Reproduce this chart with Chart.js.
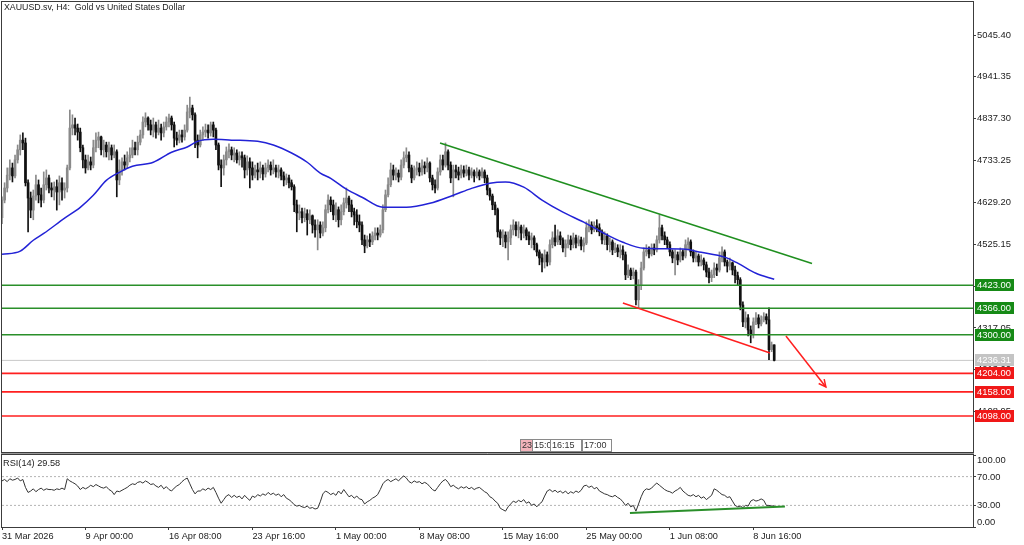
<!DOCTYPE html>
<html>
<head>
<meta charset="utf-8">
<title>XAUUSD H4</title>
<script src="https://cdn.jsdelivr.net/npm/chart.js@4.4.1/dist/chart.umd.min.js"></script>
<style>
  html, body { margin: 0; padding: 0; background: #ffffff; }
  #wrap { position: relative; width: 1024px; height: 545px; overflow: hidden; }
  canvas { position: absolute; left: 0; }
  #main { top: 0; }
  #rsi { top: 453px; }
</style>
</head>
<body>
<div id="wrap">
  <canvas id="main" width="1024" height="453"></canvas>
  <canvas id="rsi" width="1024" height="92"></canvas>
</div>
<script>
    // H4 candles, index 0 = 31 Mar 2026, open of each bar = previous close
    const firstOpen = 4591;
    const closes = [
        4635,4665,4697,4715,4695,4735,4760,4784,4777,4678,
        4640,4610,4645,4673,4648,4635,4673,4690,4665,4660,
        4668,4655,4678,4660,4665,4715,4814,4822,4814,4804,
        4765,4735,4715,4730,4722,4765,4784,4792,4760,4772,
        4755,4765,4747,4755,4685,4710,4730,4722,4740,4747,
        4765,4760,4779,4797,4829,4839,4822,4809,4822,4804,
        4814,4802,4817,4829,4839,4822,4789,4784,4797,4792,
        4809,4854,4864,4847,4784,4772,4797,4804,4809,4802,
        4822,4809,4772,4722,4715,4735,4755,4760,4747,4752,
        4735,4745,4740,4710,4730,4715,4697,4710,4705,4715,
        4700,4715,4722,4710,4715,4705,4710,4695,4685,4690,
        4678,4668,4623,4603,4606,4591,4601,4586,4596,4573,
        4561,4573,4553,4566,4611,4635,4623,4598,4611,4586,
        4606,4628,4640,4623,4606,4598,4581,4573,4536,4521,
        4536,4531,4546,4553,4548,4561,4611,4648,4673,4710,
        4697,4702,4692,4722,4740,4747,4715,4690,4710,4715,
        4705,4720,4715,4727,4690,4673,4665,4705,4735,4722,
        4755,4722,4690,4710,4705,4697,4710,4702,4710,4697,
        4705,4695,4705,4695,4705,4690,4660,4645,4623,4611,
        4556,4541,4548,4531,4541,4561,4573,4561,4568,4553,
        4561,4546,4536,4541,4524,4506,4491,4481,4499,4481,
        4524,4541,4531,4546,4536,4516,4526,4536,4524,4541,
        4528,4536,4521,4528,4566,4573,4561,4571,4566,4556,
        4536,4546,4524,4531,4511,4516,4506,4511,4499,4449,
        4461,4447,4456,4387,4424,4466,4506,4511,4501,4516,
        4511,4536,4566,4546,4536,4524,4506,4491,4499,4486,
        4506,4496,4524,4531,4506,4491,4496,4481,4486,4474,
        4456,4442,4449,4466,4461,4491,4506,4481,4471,4479,
        4461,4447,4437,4374,4332,4342,4312,4300,4332,4342,
        4327,4337,4345,4337,4263,4275,4236.31
    ];
    const highs = [
        4643,4678,4715,4735,4727,4747,4772,4797,4802,4789,
        4685,4655,4660,4697,4685,4665,4705,4710,4697,4678,
        4680,4685,4695,4690,4678,4722,4859,4847,4839,4824,
        4814,4772,4747,4747,4742,4784,4802,4804,4794,4784,
        4779,4779,4772,4772,4760,4735,4740,4747,4755,4765,
        4784,4779,4794,4809,4842,4852,4842,4834,4839,4829,
        4834,4824,4829,4842,4849,4844,4829,4804,4809,4809,
        4822,4871,4891,4871,4852,4797,4809,4817,4824,4822,
        4829,4829,4814,4777,4735,4747,4767,4775,4767,4765,
        4760,4755,4755,4747,4745,4740,4730,4722,4727,4730,
        4722,4727,4735,4730,4735,4722,4722,4715,4705,4700,
        4697,4685,4673,4635,4623,4615,4615,4611,4611,4598,
        4586,4586,4581,4581,4623,4648,4643,4635,4628,4618,
        4623,4640,4665,4645,4635,4615,4611,4598,4581,4548,
        4546,4551,4556,4566,4566,4573,4623,4660,4690,4727,
        4722,4715,4710,4735,4755,4765,4755,4722,4720,4730,
        4727,4735,4730,4740,4730,4697,4685,4715,4747,4747,
        4777,4760,4730,4722,4722,4717,4722,4720,4722,4717,
        4715,4710,4715,4710,4715,4710,4697,4665,4650,4630,
        4615,4561,4561,4556,4556,4573,4586,4581,4581,4573,
        4573,4566,4556,4553,4546,4528,4511,4501,4511,4506,
        4536,4556,4573,4561,4556,4541,4536,4548,4546,4553,
        4548,4546,4543,4541,4581,4586,4581,4581,4586,4576,
        4561,4556,4551,4541,4536,4528,4524,4524,4521,4506,
        4474,4466,4466,4461,4437,4481,4516,4524,4519,4526,
        4526,4546,4598,4573,4556,4543,4531,4511,4511,4506,
        4516,4511,4536,4541,4536,4511,4506,4501,4499,4491,
        4481,4466,4461,4479,4476,4506,4519,4511,4486,4491,
        4481,4471,4456,4442,4382,4357,4350,4322,4342,4355,
        4350,4347,4355,4352,4367,4282,4267
    ];
    const lows = [
        4576,4628,4655,4685,4680,4690,4727,4747,4760,4670,
        4556,4591,4586,4635,4628,4618,4628,4660,4653,4643,
        4635,4610,4623,4635,4640,4655,4710,4797,4797,4784,
        4755,4715,4702,4710,4710,4715,4755,4765,4747,4742,
        4742,4735,4735,4740,4643,4673,4697,4710,4715,4730,
        4740,4747,4747,4772,4789,4817,4809,4797,4792,4789,
        4797,4784,4792,4809,4817,4809,4767,4772,4777,4779,
        4784,4804,4839,4834,4765,4740,4767,4784,4792,4789,
        4794,4792,4760,4710,4668,4697,4722,4740,4735,4730,
        4727,4722,4717,4690,4697,4665,4685,4690,4685,4690,
        4685,4692,4705,4697,4700,4692,4690,4685,4670,4673,
        4665,4660,4606,4556,4586,4578,4581,4548,4576,4553,
        4543,4511,4541,4546,4556,4603,4606,4586,4581,4568,
        4573,4598,4615,4606,4593,4573,4566,4556,4524,4504,
        4516,4519,4524,4536,4536,4543,4553,4606,4643,4668,
        4685,4685,4680,4685,4715,4730,4705,4678,4685,4697,
        4695,4697,4700,4705,4680,4660,4653,4660,4697,4710,
        4717,4710,4678,4643,4690,4685,4690,4692,4695,4685,
        4690,4680,4690,4685,4690,4678,4648,4635,4611,4598,
        4543,4524,4519,4516,4486,4524,4548,4546,4541,4536,
        4541,4536,4524,4516,4511,4496,4474,4456,4466,4471,
        4474,4516,4521,4524,4524,4506,4494,4516,4511,4516,
        4516,4521,4511,4506,4524,4556,4551,4556,4556,4546,
        4526,4524,4511,4506,4499,4504,4494,4491,4486,4437,
        4442,4437,4439,4374,4367,4412,4461,4496,4491,4496,
        4499,4506,4528,4536,4524,4516,4496,4479,4449,4474,
        4481,4486,4491,4511,4496,4481,4481,4471,4471,4461,
        4444,4429,4432,4442,4447,4456,4481,4471,4456,4461,
        4449,4429,4424,4362,4320,4317,4297,4280,4292,4325,
        4317,4322,4332,4327,4238,4258,4235
    ];
    const rsiValues = [
        64,66,63,67,65,66,68,64,66,55,
        48,50,53,49,52,54,51,53,52,52,
        51,53,52,54,52,67,64,62,60,57,
        52,55,53,55,58,56,59,57,55,54,
        56,52,50,45,50,49,51,53,55,58,
        60,59,62,63,61,64,62,59,60,57,
        55,58,53,56,52,50,54,57,59,63,
        66,68,60,52,46,50,50,53,51,54,
        52,55,48,40,33,38,43,45,41,44,
        41,43,39,44,40,37,43,41,45,43,
        46,44,48,45,47,44,46,42,45,40,
        38,35,31,29,30,28,27,29,26,27,
        25,26,35,46,50,48,45,47,44,50,
        46,52,47,42,44,40,43,39,38,32,
        35,37,40,42,45,52,60,64,66,63,
        65,67,64,68,71,68,63,61,64,62,
        63,60,62,60,56,52,50,55,60,64,
        66,62,56,58,55,53,56,54,56,53,
        55,52,54,55,52,49,47,42,40,36,
        33,26,24,22,28,32,36,34,37,35,
        38,33,35,30,32,28,32,35,43,50,
        52,49,51,48,50,47,50,46,49,47,
        50,48,51,57,58,55,57,53,55,50,
        48,46,45,43,42,44,41,39,35,30,
        33,28,30,22,32,42,50,53,52,54,
        58,61,58,55,52,50,49,47,50,52,
        55,50,47,44,43,45,42,44,40,42,
        38,41,44,53,51,48,45,44,41,42,
        36,30,28,29,27,30,29,36,38,36,
        37,39,37,30,30,29,29.58
    ];
    // 이동평균 (파란 선) 표본점
    const maIdx = [0,7,12,16,24,30,35,40,45,50,58,65,71,75,81,88,98,104,111,117,122,126,132,138,146,155,164,173,180,187,193,200,207,215,223,230,238,246,261,268,277,282,289,296];
    const maVals = [4500,4508,4535,4552,4590,4617,4647,4684,4704,4719,4729,4754,4767,4781,4786,4784,4781,4772,4752,4729,4702,4689,4662,4642,4617,4617,4627,4647,4664,4677,4680,4667,4635,4605,4580,4555,4530,4515,4513,4505,4493,4478,4453,4438];

    const yTicks = [5045.40, 4941.35, 4837.30, 4733.25, 4629.20, 4525.15, 4421.10, 4317.05, 4213.00, 4108.95];
    const rsiTicks = [100, 70, 30, 0];
    const rsiLevels = [70, 30];
    const xTickIdx = [0, 32, 64, 96, 128, 160, 192, 224, 256, 288];
    const xLabels = ['31 Mar 2026', '9 Apr 00:00', '16 Apr 08:00', '23 Apr 16:00', '1 May 00:00', '8 May 08:00', '15 May 16:00', '25 May 00:00', '1 Jun 08:00', '8 Jun 16:00'];
    const greenLevels = [4423, 4366, 4300];
    const redLevels = [4204, 4158, 4098];
    const bidPrice = 4236.31;
    const rsiLast = 29.58;
    // 추세선 [bar index, price]
    const upperTrend = [[167.9, 4776.9], [310.5, 4477.3]];
    const lowerTrend = [[238.0, 4379.0], [294.4, 4254.7]];
    const arrowLine = [[300.5, 4297.0], [315.8, 4170.1]];
    const rsiTrend = [[240.7, 19.4], [300.1, 28.5]];
    const xMin = 0, xMax = 372.2;

    // 색상 설정
    const bullColor = '#8a8a8a';
    const bearColor = '#111111';
    const maColor = '#2222d6';
    const greenColor = '#2a8f2a';
    const redColor = '#ff1f1f';
    const frameColor = '#3c3c3c';
    const textColor = '#222222';
    const fontFamily = '"Liberation Sans", Arial, sans-serif';
    const axisFont = { family: fontFamily, size: 9.4 };

    const bars = closes.map((c, i) => {
        const o = i === 0 ? firstOpen : closes[i - 1];
        return { i, o, c, h: Math.max(highs[i], o, c), l: Math.min(lows[i], o, c) };
    });
    const candleColors = bars.map(b => b.c >= b.o ? bullColor : bearColor);

    function hline(v, color, width, order, dash) {
        return {
            type: 'line', data: [{ x: xMin, y: v }, { x: xMax, y: v }],
            borderColor: color, borderWidth: width, borderDash: dash || [],
            pointRadius: 0, order: order
        };
    }
    function seg(pts, color, width, order) {
        return {
            type: 'line', data: pts.map(p => ({ x: p[0], y: p[1] })),
            borderColor: color, borderWidth: width, pointRadius: 0, order: order
        };
    }
    // 축 라벨이 차트 영역을 줄이지 않도록
    function noPad(s) {
        s.paddingTop = 0; s.paddingBottom = 0; s.paddingLeft = 0; s.paddingRight = 0;
    }

    const mainOverlay = {
        id: 'mainOverlay',
        afterDraw(chart) {
            const ctx = chart.ctx, a = chart.chartArea;
            const ys = chart.scales.y, xs = chart.scales.x;
            ctx.save();
            ctx.strokeStyle = frameColor;
            ctx.lineWidth = 1;
            ctx.strokeRect(a.left - 0.5, a.top - 0.5, a.right - a.left + 1, a.bottom - a.top + 1);

            // arrow head
            const x1 = xs.getPixelForValue(arrowLine[0][0]), y1 = ys.getPixelForValue(arrowLine[0][1]);
            const x2 = xs.getPixelForValue(arrowLine[1][0]), y2 = ys.getPixelForValue(arrowLine[1][1]);
            const ang = Math.atan2(y2 - y1, x2 - x1);
            ctx.strokeStyle = redColor;
            ctx.lineWidth = 1.5;
            ctx.beginPath();
            ctx.moveTo(x2 - 8 * Math.cos(ang - 0.45), y2 - 8 * Math.sin(ang - 0.45));
            ctx.lineTo(x2, y2);
            ctx.lineTo(x2 - 8 * Math.cos(ang + 0.45), y2 - 8 * Math.sin(ang + 0.45));
            ctx.stroke();

            // title
            ctx.fillStyle = textColor;
            ctx.font = '8.8px ' + fontFamily;
            ctx.textBaseline = 'middle';
            ctx.textAlign = 'left';
            ctx.fillText('XAUUSD.sv, H4:  Gold vs United States Dollar', 4, 8);

            // time tags near the bottom
            const tags = [['23', 520, 12, '#f3b3bb'], ['15:0', 532, 18, '#ffffff'], ['16:15', 550, 31, '#ffffff'], ['17:00', 582, 29, '#ffffff']];
            ctx.font = '9px ' + fontFamily;
            tags.forEach(t => {
                ctx.fillStyle = t[3];
                ctx.fillRect(t[1], 439, t[2], 12);
                ctx.strokeStyle = '#8a8a8a';
                ctx.lineWidth = 1;
                ctx.strokeRect(t[1] + 0.5, 439.5, t[2], 12);
                ctx.save();
                ctx.beginPath();
                ctx.rect(t[1], 439, t[2], 12);
                ctx.clip();
                ctx.fillStyle = '#333';
                ctx.fillText(t[0], t[1] + 2, 446);
                ctx.restore();
            });

            // price tags on the axis
            ctx.font = '9.4px ' + fontFamily;
            const tag = (v, bg) => {
                const py = Math.round(ys.getPixelForValue(v));
                ctx.fillStyle = bg;
                ctx.fillRect(975, py - 6, 39, 12);
                ctx.fillStyle = '#ffffff';
                ctx.fillText(v.toFixed(2), 977, py + 0.5);
            };
            tag(bidPrice, '#c4c4c4');
            greenLevels.forEach(v => tag(v, '#168a16'));
            redLevels.forEach(v => tag(v, '#f01818'));
            ctx.restore();
        }
    };

    new Chart(document.getElementById('main'), {
        type: 'bar',
        data: {
            datasets: [
                hline(bidPrice, '#c8c8c8', 1, 9),
                {
                    type: 'bar', data: bars.map(b => ({ x: b.i, y: [b.l, b.h] })),
                    backgroundColor: candleColors, barThickness: 1, grouped: false, order: 8
                },
                {
                    type: 'bar', data: bars.map(b => ({ x: b.i, y: [Math.min(b.o, b.c), Math.max(b.o, b.c)] })),
                    backgroundColor: candleColors, barThickness: 2, minBarLength: 1, grouped: false, order: 7
                },
                {
                    type: 'line', data: maIdx.map((x, k) => ({ x: x, y: maVals[k] })),
                    borderColor: maColor, borderWidth: 1.5, pointRadius: 0,
                    cubicInterpolationMode: 'monotone', order: 6
                },
                ...greenLevels.map(v => hline(v, greenColor, 1.6, 5)),
                ...redLevels.map(v => hline(v, redColor, 1.6, 5)),
                seg(upperTrend, '#1f8f1f', 1.5, 2),
                seg(lowerTrend, redColor, 1.5, 2),
                seg(arrowLine, redColor, 1.5, 1)
            ]
        },
        options: {
            responsive: false,
            animation: false,
            devicePixelRatio: 1,
            events: [],
            layout: { padding: { left: 2, top: 2, right: 0, bottom: 1 } },
            plugins: { legend: { display: false }, tooltip: { enabled: false } },
            scales: {
                x: {
                    type: 'linear', min: xMin, max: xMax, offset: false, display: false,
                    grid: { offset: false }
                },
                y: {
                    position: 'right', min: 4008.5, max: 5127.5, beginAtZero: false,
                    afterBuildTicks: s => { s.ticks = yTicks.map(v => ({ value: v })); },
                    afterFit: s => { s.width = 51; noPad(s); },
                    ticks: { font: axisFont, color: textColor, padding: 1, callback: v => v.toFixed(2) },
                    grid: { drawOnChartArea: false, tickLength: 3, color: frameColor },
                    border: { display: false }
                }
            }
        },
        plugins: [mainOverlay]
    });

    const rsiOverlay = {
        id: 'rsiOverlay',
        afterDraw(chart) {
            const ctx = chart.ctx, a = chart.chartArea, ys = chart.scales.y;
            ctx.save();
            ctx.strokeStyle = '#9a9a9a';
            ctx.beginPath();
            ctx.moveTo(a.left - 1, 0.5);
            ctx.lineTo(a.right + 1, 0.5);
            ctx.stroke();
            ctx.strokeStyle = frameColor;
            ctx.lineWidth = 1;
            ctx.strokeRect(a.left - 0.5, a.top - 0.5, a.right - a.left + 1, a.bottom - a.top + 1);
            ctx.fillStyle = textColor;
            ctx.textBaseline = 'middle';
            ctx.textAlign = 'left';
            ctx.font = '9.2px ' + fontFamily;
            ctx.fillText('RSI(14) ' + rsiLast.toFixed(2), 3, 10);
            ctx.font = '9.4px ' + fontFamily;
            rsiTicks.forEach(v => {
                const py = Math.min(Math.max(ys.getPixelForValue(v), a.top + 5), a.bottom - 5);
                ctx.fillText(v.toFixed(2), 977, py + 0.5);
            });
            ctx.restore();
        }
    };

    new Chart(document.getElementById('rsi'), {
        type: 'line',
        data: {
            datasets: [
                {
                    data: rsiValues.map((v, i) => ({ x: i, y: v })),
                    borderColor: '#333333', borderWidth: 1, pointRadius: 0, order: 2
                },
                ...rsiLevels.map(v => hline(v, '#b4b4b4', 1, 3, [2, 2])),
                seg(rsiTrend, greenColor, 2, 1)
            ]
        },
        options: {
            responsive: false,
            animation: false,
            devicePixelRatio: 1,
            events: [],
            layout: { padding: { left: 2, top: 2, right: 0, bottom: 0 } },
            plugins: { legend: { display: false }, tooltip: { enabled: false } },
            scales: {
                x: {
                    type: 'linear', min: xMin, max: xMax,
                    afterBuildTicks: s => { s.ticks = xTickIdx.map(v => ({ value: v })); },
                    afterFit: s => { s.height = 18; noPad(s); },
                    ticks: {
                        font: { family: fontFamily, size: 9.2 }, color: textColor, padding: 1,
                        align: 'start', maxRotation: 0, autoSkip: false,
                        callback: (v, k) => xLabels[k]
                    },
                    grid: { drawOnChartArea: false, tickLength: 3, color: frameColor },
                    border: { display: false }
                },
                y: {
                    position: 'right', min: 0, max: 100,
                    afterBuildTicks: s => { s.ticks = rsiTicks.map(v => ({ value: v })); },
                    afterFit: s => { s.width = 51; noPad(s); },
                    ticks: { display: false },
                    grid: { drawOnChartArea: false, tickLength: 3, color: frameColor },
                    border: { display: false }
                }
            }
        },
        plugins: [rsiOverlay]
    });
</script>
</body>
</html>
